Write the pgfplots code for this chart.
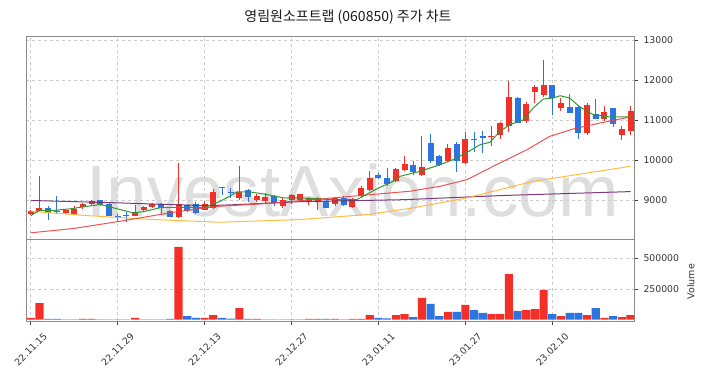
\documentclass[border=0pt]{standalone}
\usepackage{pgfplots}
\pgfplotsset{compat=1.18}
\usepackage{pgfplotstable}
\usepackage{fontspec}
\setmainfont{DejaVu Sans}
\newfontfamily\cjk{Noto Sans CJK KR}
\newfontfamily\wm{Liberation Sans}
\definecolor{upc}{RGB}{242,48,40}
\definecolor{dnc}{RGB}{44,116,226}
\definecolor{ma5}{RGB}{50,150,50}
\definecolor{ma20}{RGB}{238,64,64}
\definecolor{ma60}{RGB}{255,180,50}
\definecolor{ma120}{RGB}{110,40,110}

\pgfplotstableread{
i o h l c v
0 8650 8750 8630 8730 14000
1 8720 9610 8720 8800 136000
4 8670 8780 8640 8760 3000
5 8640 8860 8630 8780 3000
6 8820 8930 8770 8900 6000
7 8890 8990 8870 8970 6000
12 8610 8870 8600 8700 14000
13 8740 8850 8730 8830 3000
14 8830 8930 8810 8900 3000
17 8570 9930 8540 8890 592000
20 8760 8980 8740 8910 14000
21 8790 9280 8780 9200 38000
24 9040 9860 9010 9200 95000
26 9010 9160 8950 9090 6000
27 8970 9170 8930 9080 3000
29 8860 9060 8800 8990 3000
30 9010 9140 8890 9120 3000
31 8990 9150 8960 9140 3000
32 8970 9070 8870 9050 6000
33 8960 9070 8740 9040 6000
35 8910 9070 8840 9050 6000
37 8820 9040 8810 9010 6000
38 9100 9340 9050 9300 6000
39 9260 9720 9230 9550 38000
42 9470 9800 9450 9780 38000
43 9760 10100 9740 9910 46000
45 9620 10610 9600 9830 177000
48 9980 10400 9950 10310 63000
50 9920 10710 9900 10530 120000
53 10580 10850 10350 10600 46000
54 10620 10960 10540 10920 46000
55 10850 11990 10710 11580 372000
57 10980 11460 10920 11410 79000
58 11700 11870 11430 11820 87000
59 11630 12500 11580 11870 242000
61 11300 11550 11230 11430 30000
64 10680 11430 10640 11390 38000
66 11030 11350 10990 11200 14000
68 10620 10850 10500 10790 22000
69 10720 11350 10640 11220 38000
}\upt

\pgfplotstableread{
i o h l c v
2 8810 8850 8500 8680 6000
3 8720 9090 8640 8690 6000
8 8990 9000 8860 8870 3000
9 8910 8920 8590 8600 3000
10 8610 8660 8460 8590 2000
11 8620 8690 8450 8600 2000
15 8890 8930 8640 8790 3000
16 8720 8740 8570 8580 6000
18 8880 8900 8700 8720 30000
19 8910 8950 8650 8680 14000
22 9320 9330 9120 9300 14000
23 9190 9300 9060 9170 8000
25 9260 9280 8940 9070 6000
28 9110 9130 8860 8930 3000
34 8970 8990 8790 8810 6000
36 9050 9110 8860 8870 2000
40 9630 9680 9530 9550 14000
41 9560 9810 9350 9400 10000
44 9890 9970 9640 9710 22000
46 10420 10660 9930 9980 128000
47 10110 10120 9850 9890 30000
49 10410 10460 9710 9980 63000
51 10540 10710 10210 10520 79000
52 10610 10720 10190 10560 55000
56 11560 11580 10930 10940 71000
60 11870 11880 11120 11550 46000
62 11320 11650 11170 11180 55000
63 11340 11350 10540 10680 55000
65 11150 11540 11020 11030 95000
67 11300 11310 10820 10910 30000
}\dnt

\pgfplotsset{
  common/.style={
    scale only axis, width=608pt,
    xmin=-0.55, xmax=69.4,
    scaled ticks=false,
    axis line style={draw=black!45},
    grid=major, grid style={dashed, black!20, line width=0.6pt},
    tick align=outside, major tick length=4pt,
    tick style={draw=black!75, line width=0.6pt},
    ytick pos=right, yticklabel pos=right,
    ticklabel style={font=\fontsize{9.3}{11}\selectfont, text=black!80},
    yticklabel style={xshift=2pt},
    xtick={0,10,20,30,40,50,60},
    clip=true,
  },
  candle/.style 2 args={draw=none, mark=none, forget plot, error bars/.cd, y dir=minus, y explicit, error mark=none,
    error bar style={line width=#1, draw=#2}},
}

\begin{document}
\begin{tikzpicture}[x=1pt,y=1pt]
\useasboundingbox (0,0) rectangle (708,380);
\node[font=\cjk\fontsize{14}{16}\selectfont, text=black!90] at (348,363) {영림원소프트랩 (060850) 주가 차트};
\node[font=\wm\fontsize{72.6}{80}\selectfont, text=black!13, anchor=base, inner sep=0pt] at (353,163.3) {InvestAxion.com};

\begin{axis}[common, at={(26pt,141pt)}, anchor=south west, height=203pt,
  ymin=8025, ymax=13108,
  ytick={9000,10000,11000,12000,13000},
  yticklabels={9000,10000,11000,12000,13000},
  xticklabels={}, xtick style={draw=none}]
  % wicks
  \addplot[candle={1pt}{upc}]
    table[x=i, y=h, y error minus expr=\thisrow{h}-\thisrow{l}] {\upt};
  \addplot[candle={1pt}{dnc}]
    table[x=i, y=h, y error minus expr=\thisrow{h}-\thisrow{l}] {\dnt};
  % bodies
  \addplot[candle={6pt}{upc}]
    table[x=i, y=c, y error minus expr=\thisrow{c}-\thisrow{o}] {\upt};
  \addplot[candle={6pt}{dnc}]
    table[x=i, y=o, y error minus expr=\thisrow{o}-\thisrow{c}] {\dnt};
  % moving averages
  \addplot[ma120, line width=1pt, opacity=0.9] coordinates {
    (0,8990) (10,8930) (20,8860) (23,8880) (31,8960) (43,9010) (54,9112) (69,9212)};
  \addplot[ma60, line width=1pt, opacity=0.9] coordinates {
    (0,8720) (6.4,8612) (14.1,8512) (21.8,8445) (31,8512) (38.7,8637) (43.6,8790) (50.2,9055) (57.8,9470) (69,9845)};
  \addplot[ma20, line width=1pt, opacity=0.9] coordinates {
    (0,8180) (5,8290) (10.3,8470) (16,8680) (19.5,8790) (21.8,8845) (27.1,8912) (34.8,9055) (43.6,9220) (47.1,9345) (50.2,9512) (53.2,9845) (57.1,10262) (59.7,10595) (62.4,10780) (65.5,10930) (69,11080)};
  \addplot[ma5, line width=1pt] coordinates {
    (0,8610) (1,8740) (2.6,8740) (4.5,8780) (8,8890) (10.3,8760) (11.8,8680) (13,8710) (14.9,8810) (18,8820) (20,8810) (21.8,8970) (23,9110) (23.7,9205) (25.2,9205) (27.1,9140) (29.1,9055) (31,9055) (32.9,9030) (34.8,9010) (37.5,9010) (39.8,9280) (41.7,9470) (42.5,9595) (44.8,9720) (47.1,9888) (48.6,10012) (50.2,10195) (51.7,10388) (52.8,10445) (54,10720) (55.1,10888) (56.7,11012) (57.8,11305) (58.97,11530) (60.1,11555) (60.9,11612) (62,11555) (63.1,11345) (64.7,11138) (66.6,11080) (69,11080)};
\end{axis}

\begin{axis}[common, at={(26pt,59.3pt)}, anchor=south west, height=81.7pt,
  ymin=-8000, ymax=657000,
  ytick={250000,500000}, yticklabels={250000,500000},
  xtick pos=bottom,
  xticklabels={22.11.15,22.11.29,22.12.13,22.12.27,23.01.11,23.01.27,23.02.10},
  xticklabel style={yshift=-24.5pt, rotate=45, anchor=center}]
  \addplot[ybar, bar width=0.94, bar shift=0pt, fill=upc, draw=none] table[x=i, y=v] {\upt};
  \addplot[ybar, bar width=0.94, bar shift=0pt, fill=dnc, draw=none] table[x=i, y=v] {\dnt};
\end{axis}
\node[font=\fontsize{9.5}{11}\selectfont, text=black!80, rotate=90] at (690.7,98.3) {Volume};
\end{tikzpicture}
\end{document}
